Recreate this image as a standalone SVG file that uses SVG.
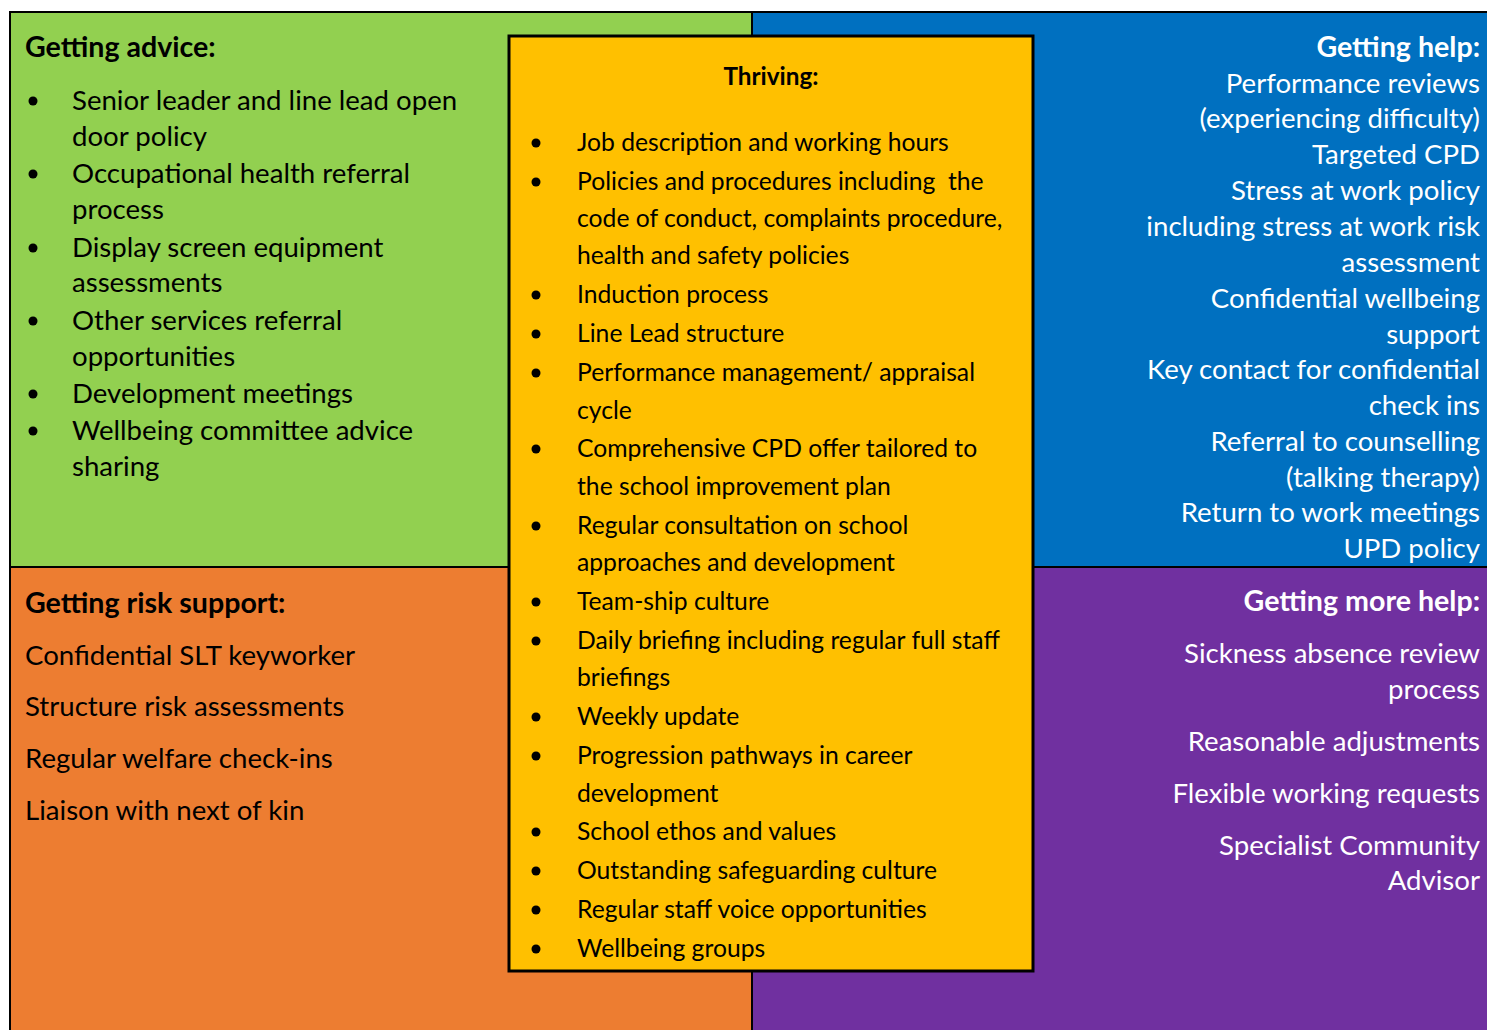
<svg xmlns="http://www.w3.org/2000/svg" width="1487" height="1030" viewBox="0 0 1487 1030">
<style>
.t{font-family:Lato,"Noto Sans",sans-serif;font-size:27.6px;fill:#000}
.b{font-weight:bold;font-size:28.6px}
.w{fill:#fff}
.r{text-anchor:end}
.y{font-size:24.7px}
.yb{font-size:24.3px}
.line{stroke:#000;stroke-width:2;fill:none}
</style>
<rect width="1487" height="1030" fill="#fff"/>
<g id="advice">
<rect x="10" y="12" width="742" height="555" fill="#92D050"/>
<text class="t b" x="25" y="57">Getting advice:</text>
<g class="t">
<circle cx="33" cy="101" r="4.5"/>
<text x="72" y="110">Senior leader and line lead open</text>
<text x="72" y="146">door policy</text>
<circle cx="33" cy="174" r="4.5"/>
<text x="72" y="183">Occupational health referral</text>
<text x="72" y="219">process</text>
<circle cx="33" cy="248" r="4.5"/>
<text x="72" y="257">Display screen equipment</text>
<text x="72" y="292">assessments</text>
<circle cx="33" cy="321" r="4.5"/>
<text x="72" y="330">Other services referral</text>
<text x="72" y="366">opportunities</text>
<circle cx="33" cy="394" r="4.5"/>
<text x="72" y="403">Development meetings</text>
<circle cx="33" cy="431" r="4.5"/>
<text x="72" y="440">Wellbeing committee advice</text>
<text x="72" y="476">sharing</text>
</g>
</g>
<g id="help">
<rect x="752" y="12" width="735" height="555" fill="#0070C0"/>
<g class="t w r">
<text class="b" x="1480" y="57">Getting help:</text>
<text x="1480" y="93">Performance reviews</text>
<text x="1480" y="128">(experiencing difficulty)</text>
<text x="1480" y="164">Targeted CPD</text>
<text x="1480" y="200">Stress at work policy</text>
<text x="1480" y="236">including stress at work risk</text>
<text x="1480" y="272">assessment</text>
<text x="1480" y="308">Confidential wellbeing</text>
<text x="1480" y="344">support</text>
<text x="1480" y="379">Key contact for confidential</text>
<text x="1480" y="415">check ins</text>
<text x="1480" y="451">Referral to counselling</text>
<text x="1480" y="487">(talking therapy)</text>
<text x="1480" y="522">Return to work meetings</text>
<text x="1480" y="558">UPD policy</text>
</g>
</g>
<g id="risk">
<rect x="10" y="567" width="742" height="463" fill="#ED7D31"/>
<g class="t">
<text class="b" x="25" y="613">Getting risk support:</text>
<text x="25" y="665">Confidential SLT keyworker</text>
<text x="25" y="716">Structure risk assessments</text>
<text x="25" y="768">Regular welfare check-ins</text>
<text x="25" y="820">Liaison with next of kin</text>
</g>
</g>
<g id="morehelp">
<rect x="752" y="567" width="735" height="463" fill="#7030A0"/>
<g class="t w r">
<text class="b" x="1480" y="611">Getting more help:</text>
<text x="1480" y="663">Sickness absence review</text>
<text x="1480" y="699">process</text>
<text x="1480" y="751">Reasonable adjustments</text>
<text x="1480" y="803">Flexible working requests</text>
<text x="1480" y="855">Specialist Community</text>
<text x="1480" y="890">Advisor</text>
</g>
</g>
<g id="connectors">
<path class="line" d="M10 1030V12H1487M10 567H1487M752 12V1030"/>
</g>
<g id="thriving">
<rect x="509" y="36" width="524" height="935" fill="#FFC000" stroke="#000" stroke-width="3"/>
<text class="t yb" font-weight="bold" x="771" y="85" text-anchor="middle">Thriving:</text>
<g class="t y">
<circle cx="536" cy="143" r="4.5"/><text x="577" y="151">Job description and working hours</text>
<circle cx="536" cy="182" r="4.5"/><text x="577" y="190">Policies and procedures including&#160; the</text>
<text x="577" y="227">code of conduct, complaints procedure,</text>
<text x="577" y="264">health and safety policies</text>
<circle cx="536" cy="295" r="4.5"/><text x="577" y="303">Induction process</text>
<circle cx="536" cy="334" r="4.5"/><text x="577" y="342">Line Lead structure</text>
<circle cx="536" cy="373" r="4.5"/><text x="577" y="381">Performance management/ appraisal</text>
<text x="577" y="419">cycle</text>
<circle cx="536" cy="449" r="4.5"/><text x="577" y="457">Comprehensive CPD offer tailored to</text>
<text x="577" y="495">the school improvement plan</text>
<circle cx="536" cy="526" r="4.5"/><text x="577" y="534">Regular consultation on school</text>
<text x="577" y="571">approaches and development</text>
<circle cx="536" cy="602" r="4.5"/><text x="577" y="610">Team-ship culture</text>
<circle cx="536" cy="641" r="4.5"/><text x="577" y="649">Daily briefing including regular full staff</text>
<text x="577" y="686">briefings</text>
<circle cx="536" cy="717" r="4.5"/><text x="577" y="725">Weekly update</text>
<circle cx="536" cy="756" r="4.5"/><text x="577" y="764">Progression pathways in career</text>
<text x="577" y="802">development</text>
<circle cx="536" cy="832" r="4.5"/><text x="577" y="840">School ethos and values</text>
<circle cx="536" cy="871" r="4.5"/><text x="577" y="879">Outstanding safeguarding culture</text>
<circle cx="536" cy="910" r="4.5"/><text x="577" y="918">Regular staff voice opportunities</text>
<circle cx="536" cy="949" r="4.5"/><text x="577" y="957">Wellbeing groups</text>
</g>
</g>
</svg>
